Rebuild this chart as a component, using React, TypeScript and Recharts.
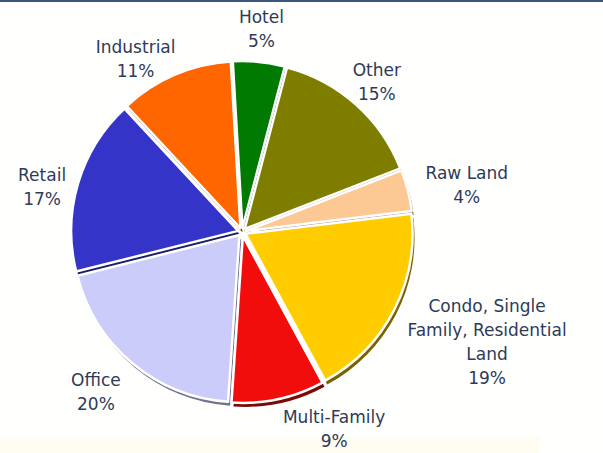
import React from 'react';
import { PieChart, Pie, Cell, Sector } from 'recharts';

const categories = [
  'Hotel',
  'Other',
  'Raw Land',
  'Condo, Single Family, Residential Land',
  'Multi-Family',
  'Office',
  'Retail',
  'Industrial',
];
const shares = [5, 15, 4, 19, 9, 20, 17, 11];
// label lines as Excel wrapped them
const labelLines = [
  ['Hotel'],
  ['Other'],
  ['Raw Land'],
  ['Condo, Single', 'Family, Residential', 'Land'],
  ['Multi-Family'],
  ['Office'],
  ['Retail'],
  ['Industrial'],
];
const colors = ['#007a00', '#7f7d00', '#fcc995', '#ffcc00', '#f20d0d', '#ccccfb', '#3434c8', '#ff6600'];
const shadowColors = ['#004400', '#44420a', '#8a6a50', '#7a6200', '#7a0a0a', '#707090', '#1a1a66', '#803300'];

const data = categories.map((name, i) => ({ name, value: shares[i] }));

const RAD = Math.PI / 180;
const EXPLODE = 4;
const FONT = 17;
const LINE = 24;
const LABEL_DY = 5;
const TEXT = '#2e3a5a';

// Excel moved a few labels sideways to keep them clear of their neighbours
const labelNudge: Record<number, [number, number]> = {
  0: [-1, -4],
  1: [-2, -2],
  2: [11, -2],
  3: [1, 0],
  4: [41, -8],
  5: [-11, -2],
  6: [2, 8],
  7: [-16, 11],
};

const exploded = (withStroke: boolean) => (props: any) => {
  const { cx, cy, midAngle, fill, innerRadius, outerRadius, startAngle, endAngle } = props;
  const dx = Math.cos(-midAngle * RAD) * EXPLODE;
  const dy = Math.sin(-midAngle * RAD) * EXPLODE;
  return (
    <Sector
      cx={cx + dx}
      cy={cy + dy}
      innerRadius={innerRadius}
      outerRadius={outerRadius}
      startAngle={startAngle}
      endAngle={endAngle}
      fill={fill}
      stroke={withStroke ? '#ffffff' : 'none'}
      strokeWidth={withStroke ? 2.5 : 0}
      strokeLinejoin="round"
    />
  );
};

const renderLabel = (props: any) => {
  const { cx, cy, midAngle, outerRadius, index } = props;
  const lines = [...labelLines[index], `${shares[index]}%`];
  const cos = Math.cos(-midAngle * RAD);
  const sin = Math.sin(-midAngle * RAD);
  const r = outerRadius + 14;
  const ax = cx + r * cos;
  const ay = cy + r * sin;
  const w = Math.max(...lines.map((l) => l.length)) * FONT * 0.58;
  const h = lines.length * LINE;
  const [nx, ny] = labelNudge[index] ?? [0, 0];
  const x = ax + (cos * w) / 2 + nx;
  const y = ay + (sin * h) / 2 - h / 2 + LINE / 2 + LABEL_DY + ny;
  return (
    <text x={x} y={y} fill={TEXT} fontSize={FONT} textAnchor="middle" dominantBaseline="central"
      fontFamily="'DejaVu Sans', Verdana, sans-serif">
      {lines.map((l, i) => (
        <tspan key={i} x={x} dy={i === 0 ? 0 : LINE}>{l}</tspan>
      ))}
    </text>
  );
};

export default function App() {
  return (
    <div style={{ width: 603, height: 453, background: '#fffffd', position: 'relative' }}>
      <style>{`body{margin:0}`}</style>
      <div style={{ position: 'absolute', left: 0, top: 0, width: 603, height: 2, background: '#3b5780' }} />
      <div style={{ position: 'absolute', left: 0, top: 437, width: 540, height: 16, background: '#fffdf2' }} />
      <PieChart width={603} height={453} margin={{ top: 0, right: 0, bottom: 0, left: 0 }}
        style={{ position: 'absolute', left: 0, top: 0 }}>
        <Pie
          data={data}
          dataKey="value"
          cx={244}
          cy={236}
          outerRadius={167}
          startAngle={93.3}
          endAngle={-266.7}
          shape={exploded(false)}
          isAnimationActive={false}
          stroke="none"
        >
          {data.map((d, i) => (
            <Cell key={d.name} fill={shadowColors[i]} />
          ))}
        </Pie>
        <Pie
          data={data}
          dataKey="value"
          cx={242}
          cy={232}
          outerRadius={167}
          startAngle={93.3}
          endAngle={-266.7}
          shape={exploded(true)}
          label={renderLabel}
          labelLine={false}
          isAnimationActive={false}
        >
          {data.map((d, i) => (
            <Cell key={d.name} fill={colors[i]} />
          ))}
        </Pie>
      </PieChart>
    </div>
  );
}
